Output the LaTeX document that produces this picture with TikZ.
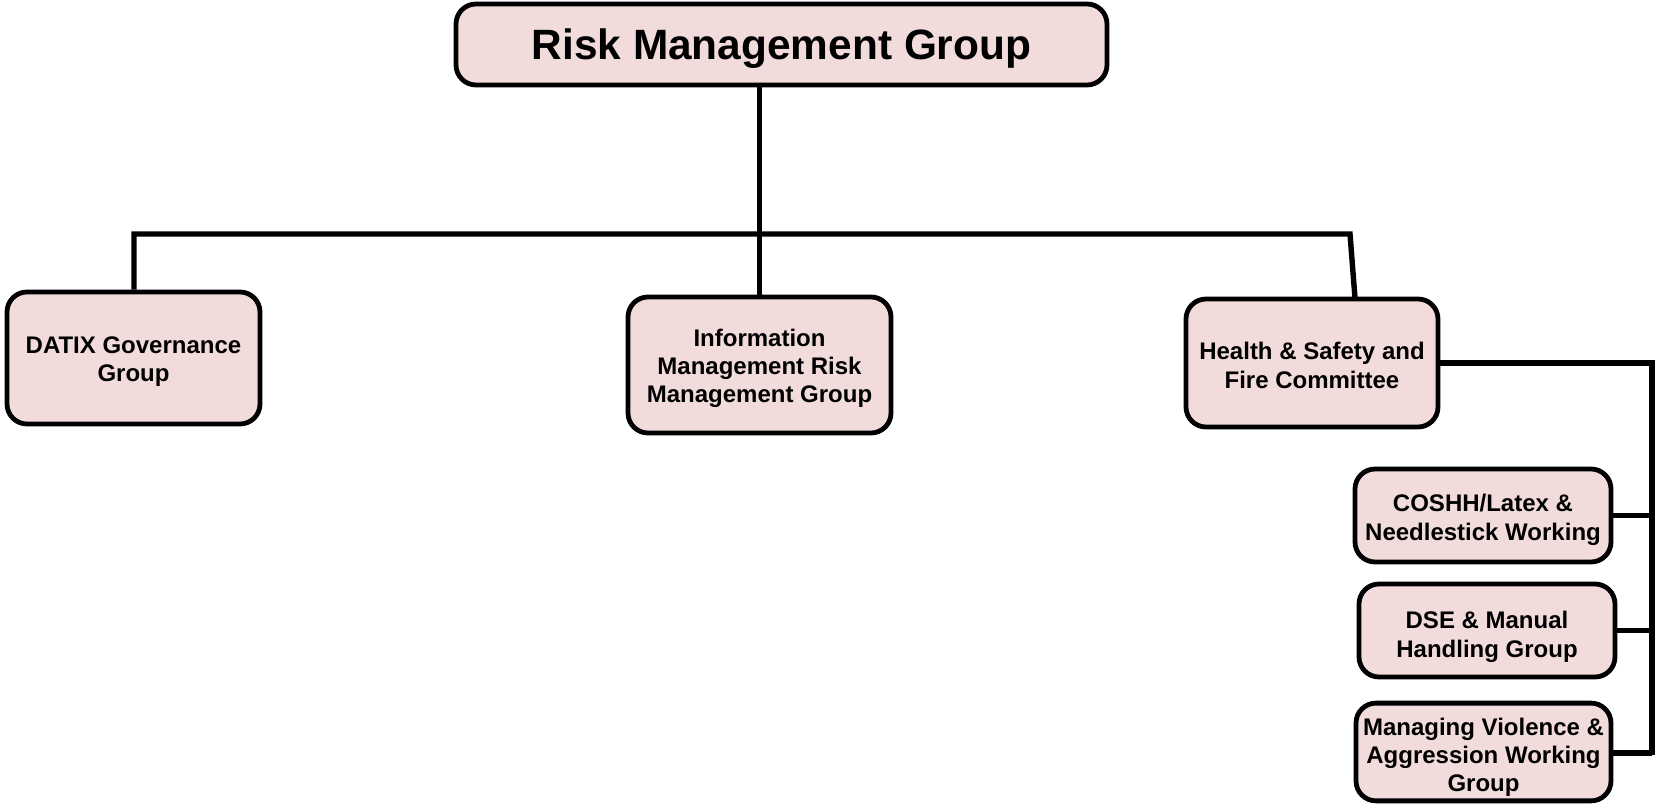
\documentclass[tikz,border=0pt]{standalone}
\usepackage{fontspec}
\setmainfont{Liberation Sans}
\definecolor{boxfill}{HTML}{F2DCDB}
\newcommand\dnstrut[1]{\rule{0pt}{#1}}
\begin{document}
\begin{tikzpicture}[
  orgbox/.style={draw=black, line width=2.4pt, fill=boxfill, rounded corners=10pt,
    align=center, inner sep=2pt, font=\bfseries\fontsize{12}{14.2}\selectfont},
  link/.style={line width=2.7pt, black}
]
\useasboundingbox (0,0) rectangle (828pt,-403pt);
\node[orgbox, minimum width=325.5pt, minimum height=40.5pt, text depth=0pt, font=\bfseries\fontsize{21.2}{25}\selectfont] (top) at (390.75pt,-22.25pt) {Risk Management Group};
\node[orgbox, minimum width=126.5pt, minimum height=66pt] (datix) at (66.75pt,-179pt) {\dnstrut{12pt}DATIX Governance\\Group};
\node[orgbox, minimum width=131.5pt, minimum height=68pt] (info) at (379.75pt,-182.5pt) {\dnstrut{12pt}Information\\Management Risk\\Management Group};
\node[orgbox, minimum width=126pt, minimum height=64pt] (hs) at (656pt,-181.5pt) {\dnstrut{11pt}Health \& Safety and\\Fire Committee};
\node[orgbox, minimum width=128pt, minimum height=46.5pt] (coshh) at (741.5pt,-257.75pt) {\dnstrut{13pt}COSHH/Latex \&\\Needlestick Working};
\node[orgbox, minimum width=128pt, minimum height=46.5pt] (dse) at (743.5pt,-315.25pt) {\dnstrut{15pt}DSE \& Manual\\Handling Group};
\node[orgbox, minimum width=127.5pt, minimum height=47pt] (mv) at (741.75pt,-376pt) {\dnstrut{14pt}Managing Violence \&\\Aggression Working\\Group};
% connectors
\coordinate (busL) at (67pt,-117pt);
\coordinate (busR) at (675pt,-117pt);
\coordinate (hsIn) at (677.5pt,-149pt);
\coordinate (rTop) at (826pt,-181.5pt);
\coordinate (rBot) at (826pt,-377.5pt);
\draw[link] (info.north |- top.south) -- (info.north);
\draw[link] (datix.north -| busL) -- (busL) -- (busR) -- (hsIn);
\draw[link] (hs.east) -- (rTop) -- (rBot);
\draw[link] (coshh.east) -- (coshh.east -| rTop);
\draw[link] (dse.east) -- (dse.east -| rTop);
\draw[link] (mv.east |- 0,-376.5pt) -- (rBot |- 0,-376.5pt);
\end{tikzpicture}
\end{document}
